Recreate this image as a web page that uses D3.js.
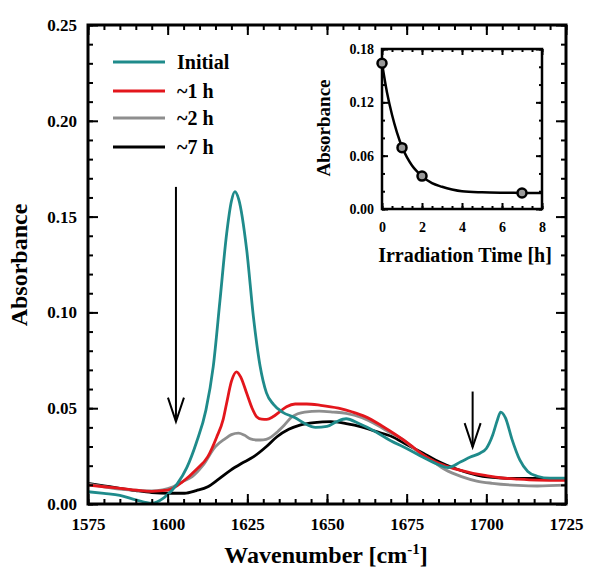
<!DOCTYPE html>
<html><head><meta charset="utf-8">
<script src="https://cdn.jsdelivr.net/npm/d3@7/dist/d3.min.js"></script>
<style>body{margin:0;background:#fff}svg{display:block}text{font-family:"Liberation Serif","Times New Roman",serif;font-weight:bold}</style>
</head><body><svg id="c" width="600" height="582"></svg>
<script>
// ---- data ----
const seriesNames = ["Initial", "~1 h", "~2 h", "~7 h"];
const seriesColors = ["#1f8b8b", "#e3161c", "#8e8e8e", "#000000"];
const initialWn = [1575,1580,1585,1590,1595,1599,1603,1606,1609,1612,1614.3,1616.4,1618.5,1620,1621.1,1622.3,1624.8,1626.9,1629,1631,1633.2,1636,1640,1643,1646.4,1650,1653,1656,1660,1665,1670,1675,1680,1685,1688,1692,1695,1698,1700,1702,1703.5,1704.5,1706,1708,1710.5,1713,1716,1720,1725];
const initialA = [0.0064,0.0055,0.0045,0.0022,0.0004,0.0035,0.0105,0.019,0.032,0.049,0.0717,0.106,0.141,0.158,0.163,0.159,0.1326,0.0978,0.072,0.058,0.052,0.048,0.045,0.042,0.040,0.0405,0.043,0.0445,0.042,0.038,0.033,0.029,0.0245,0.0205,0.019,0.022,0.0245,0.0265,0.029,0.036,0.044,0.048,0.045,0.034,0.023,0.017,0.0145,0.0135,0.0135];
const h1Wn = [1575,1580,1585,1590,1595,1600,1605,1609,1612.6,1615.4,1617.4,1618.5,1620,1621.6,1623,1624.8,1626.5,1627.9,1629.5,1631.1,1633,1635,1637.3,1640,1643.6,1648,1653.6,1658,1662,1667,1671.7,1676,1680.2,1684,1687.4,1692,1695.8,1700,1704.3,1710,1716,1725];
const h1A = [0.0099,0.009,0.0082,0.0072,0.0066,0.0072,0.012,0.018,0.0247,0.035,0.044,0.0526,0.064,0.069,0.066,0.0578,0.050,0.0456,0.0443,0.0442,0.0455,0.048,0.0508,0.0522,0.0522,0.0515,0.050,0.048,0.0456,0.041,0.036,0.031,0.0256,0.022,0.0198,0.0175,0.016,0.0148,0.0137,0.013,0.0125,0.0123];
const h2Wn = [1575,1580,1585,1590,1595,1601.7,1605,1607.7,1611,1615,1618,1620,1622.2,1624,1626,1628.2,1630,1631.8,1634,1636.5,1639.1,1643,1647.5,1652,1656,1661,1665.7,1670,1674,1678,1682.6,1687,1692.2,1697,1701.9,1710,1716,1725];
const h2A = [0.0105,0.009,0.0078,0.0072,0.0068,0.009,0.012,0.0143,0.020,0.030,0.034,0.0362,0.037,0.036,0.034,0.0334,0.0335,0.0343,0.037,0.041,0.0456,0.048,0.0485,0.048,0.0473,0.045,0.0412,0.037,0.0334,0.028,0.023,0.018,0.0143,0.012,0.0108,0.0097,0.0094,0.0098];
const h7Wn = [1575,1580,1585,1590,1595,1600,1605.3,1609,1612.6,1616,1619.8,1623,1627,1631,1634.3,1638,1641.5,1646,1651.2,1656,1660.8,1665,1670.5,1675,1680.2,1684,1687.4,1692,1697,1701,1706.7,1715,1725];
const h7A = [0.0108,0.0095,0.0082,0.007,0.006,0.0056,0.0056,0.007,0.009,0.013,0.0177,0.021,0.0247,0.030,0.0351,0.039,0.0412,0.0425,0.043,0.042,0.0403,0.038,0.0351,0.031,0.0265,0.023,0.0204,0.0175,0.0151,0.014,0.0134,0.0134,0.0134];
const xTicks = [1575,1600,1625,1650,1675,1700,1725];
const yTicks = [0.00,0.05,0.10,0.15,0.20,0.25];
// inset
const insetTime = [0,1,2,7];
const insetAbs = [0.164,0.069,0.037,0.018];
const fitTime = [0,0.25,0.5,0.75,1,1.25,1.5,2,2.5,3,3.5,4,5,6,7,8];
const fitAbs = [0.164,0.131,0.106,0.086,0.070,0.058,0.049,0.037,0.029,0.025,0.022,0.020,0.0188,0.0183,0.0181,0.018];
const insetXTicks = [0,2,4,6,8];
const insetYTicks = [0,0.06,0.12,0.18];
// arrows (wavenumber, absorbance top, absorbance bottom)
const arrowsData = [[1602.6,0.1655,0.043],[1695.7,0.0587,0.0297]];

const svg = d3.select("#c");
const L=88,R=566,T=25,B=504;
const x = d3.scaleLinear().domain([1575,1725]).range([L,R]);
const y = d3.scaleLinear().domain([0,0.25]).range([B,T]);

svg.append("clipPath").attr("id","clip").append("rect").attr("x",L).attr("y",T).attr("width",R-L).attr("height",B-T);

const series = [[initialWn,initialA],[h1Wn,h1A],[h2Wn,h2A],[h7Wn,h7A]];
const line = d3.line().x(d=>x(d[0])).y(d=>y(d[1])).curve(d3.curveMonotoneX);
const g = svg.append("g").attr("clip-path","url(#clip)");
[3,2,1,0].forEach(i=>{
  const pts = series[i][0].map((w,k)=>[w,series[i][1][k]]);
  g.append("path").attr("d",line(pts)).attr("fill","none").attr("stroke",seriesColors[i]).attr("stroke-width",2.8).attr("stroke-linejoin","round");
});

// ticks
function minorRange(a,b,s){const r=[];for(let v=a;v<=b+1e-9;v+=s)r.push(+v.toFixed(6));return r;}
const xMinor = minorRange(1575,1725,5), yMinor = minorRange(0,0.25,0.01);
function styleAxis(sel){sel.select(".domain").remove();sel.selectAll("line").attr("stroke","#000").attr("stroke-width",2);}
svg.append("g").attr("transform",`translate(0,${B})`).call(d3.axisBottom(x).tickValues(xMinor).tickSize(-5).tickFormat("")).call(styleAxis);
svg.append("g").attr("transform",`translate(0,${T})`).call(d3.axisTop(x).tickValues(xMinor).tickSize(-5).tickFormat("")).call(styleAxis);
svg.append("g").attr("transform",`translate(${L},0)`).call(d3.axisLeft(y).tickValues(yMinor).tickSize(-5).tickFormat("")).call(styleAxis);
svg.append("g").attr("transform",`translate(${R},0)`).call(d3.axisRight(y).tickValues(yMinor).tickSize(-5).tickFormat("")).call(styleAxis);
const xb = svg.append("g").attr("transform",`translate(0,${B})`).call(d3.axisBottom(x).tickValues(xTicks).tickSize(-10).tickPadding(14).tickFormat(d3.format("d"))).call(styleAxis);
svg.append("g").attr("transform",`translate(0,${T})`).call(d3.axisTop(x).tickValues(xTicks).tickSize(-10).tickFormat("")).call(styleAxis);
const yl = svg.append("g").attr("transform",`translate(${L},0)`).call(d3.axisLeft(y).tickValues(yTicks).tickSize(-10).tickPadding(11).tickFormat(d3.format(".2f"))).call(styleAxis);
svg.append("g").attr("transform",`translate(${R},0)`).call(d3.axisRight(y).tickValues(yTicks).tickSize(-10).tickFormat("")).call(styleAxis);
[xb,yl].forEach(a=>a.selectAll("text").attr("font-size",17).attr("font-family","Liberation Serif").attr("font-weight","bold").attr("fill","#000"));
svg.append("rect").attr("x",L).attr("y",T).attr("width",R-L).attr("height",B-T).attr("fill","none").attr("stroke","#000").attr("stroke-width",3);

// axis titles
svg.append("text").attr("transform",`translate(27,265) rotate(-90)`).attr("text-anchor","middle").attr("font-size",24).text("Absorbance");
const xt = svg.append("text").attr("x",326).attr("y",563).attr("text-anchor","middle").attr("font-size",24);
xt.append("tspan").text("Wavenumber [cm");
xt.append("tspan").attr("font-size",15).attr("dy",-9).text("-1");
xt.append("tspan").attr("dy",9).text("]");

// legend
const legY = [62,91,118,147];
seriesNames.forEach((n,i)=>{
  svg.append("line").attr("x1",113).attr("x2",165).attr("y1",legY[i]).attr("y2",legY[i]).attr("stroke",seriesColors[i]).attr("stroke-width",3);
  svg.append("text").attr("x",177).attr("y",legY[i]+7).attr("font-size",20).text(n);
});

// arrows
arrowsData.forEach(a=>{
  const ax=x(a[0]), y0=y(a[1]), y1=y(a[2]);
  svg.append("line").attr("x1",ax).attr("x2",ax).attr("y1",y0).attr("y2",y1).attr("stroke","#000").attr("stroke-width",2);
  svg.append("path").attr("d",`M${ax-8},${y1-24}L${ax},${y1}L${ax+8},${y1-24}`).attr("fill","none").attr("stroke","#000").attr("stroke-width",2);
});

// inset
const iL=382,iR=542,iT=49,iB=209;
const ix = d3.scaleLinear().domain([0,8]).range([iL,iR]);
const iy = d3.scaleLinear().domain([0,0.18]).range([iB,iT]);
const ixMinor = minorRange(0,8,0.5), iyMinor = minorRange(0,0.18,0.02);
svg.append("g").attr("transform",`translate(0,${iB})`).call(d3.axisBottom(ix).tickValues(ixMinor).tickSize(-3).tickFormat("")).call(styleAxis);
svg.append("g").attr("transform",`translate(0,${iT})`).call(d3.axisTop(ix).tickValues(ixMinor).tickSize(-3).tickFormat("")).call(styleAxis);
svg.append("g").attr("transform",`translate(${iL},0)`).call(d3.axisLeft(iy).tickValues(iyMinor).tickSize(-3).tickFormat("")).call(styleAxis);
svg.append("g").attr("transform",`translate(${iR},0)`).call(d3.axisRight(iy).tickValues(iyMinor).tickSize(-3).tickFormat("")).call(styleAxis);
const ixb = svg.append("g").attr("transform",`translate(0,${iB})`).call(d3.axisBottom(ix).tickValues(insetXTicks).tickSize(-6).tickPadding(13).tickFormat(d3.format("d"))).call(styleAxis);
svg.append("g").attr("transform",`translate(0,${iT})`).call(d3.axisTop(ix).tickValues(insetXTicks).tickSize(-6).tickFormat("")).call(styleAxis);
const iyl = svg.append("g").attr("transform",`translate(${iL},0)`).call(d3.axisLeft(iy).tickValues(insetYTicks).tickSize(-6).tickPadding(8).tickFormat(d3.format(".2f"))).call(styleAxis);
svg.append("g").attr("transform",`translate(${iR},0)`).call(d3.axisRight(iy).tickValues(insetYTicks).tickSize(-6).tickFormat("")).call(styleAxis);
[ixb,iyl].forEach(a=>a.selectAll("text").attr("font-size",14).attr("font-family","Liberation Serif").attr("font-weight","bold").attr("fill","#000"));
svg.append("rect").attr("x",iL).attr("y",iT).attr("width",iR-iL).attr("height",iB-iT).attr("fill","none").attr("stroke","#000").attr("stroke-width",2.5);
const fitPts = fitTime.map((t,k)=>[t,fitAbs[k]]);
svg.append("path").attr("d",d3.line().x(d=>ix(d[0])).y(d=>iy(d[1])).curve(d3.curveMonotoneX)(fitPts)).attr("fill","none").attr("stroke","#000").attr("stroke-width",2.5);
insetTime.forEach((t,k)=>{
  svg.append("circle").attr("cx",ix(t)).attr("cy",iy(insetAbs[k])).attr("r",4.5).attr("fill","#999").attr("stroke","#000").attr("stroke-width",2.5);
});
svg.append("text").attr("transform",`translate(330,128) rotate(-90)`).attr("text-anchor","middle").attr("font-size",19).text("Absorbance");
svg.append("text").attr("x",465).attr("y",262).attr("text-anchor","middle").attr("font-size",20).text("Irradiation Time [h]");
</script></body></html>
